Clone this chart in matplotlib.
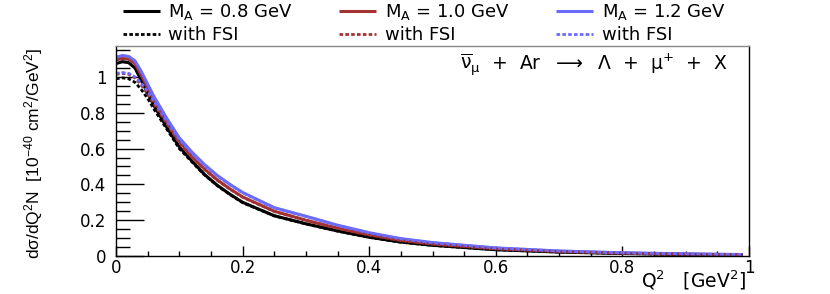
import numpy as np
import matplotlib
matplotlib.use("Agg")
import matplotlib.pyplot as plt
from matplotlib.ticker import MultipleLocator, FuncFormatter

plt.rcParams['font.family'] = ['DejaVu Sans']
plt.rcParams['mathtext.fontset'] = 'dejavusans'
plt.rcParams['mathtext.default'] = 'regular'

# ---------------- data ----------------
q2 = [0.0, 0.01, 0.02, 0.03, 0.04, 0.05, 0.06, 0.08, 0.10, 0.12, 0.14, 0.16, 0.18,
      0.20, 0.25, 0.30, 0.35, 0.40, 0.45, 0.50, 0.60, 0.70, 0.80, 0.90, 0.99]

ma08 = [1.075, 1.085, 1.08, 1.05, 0.98, 0.91, 0.84, 0.72, 0.61, 0.53, 0.455, 0.395, 0.345,
        0.30, 0.225, 0.18, 0.14, 0.105, 0.078, 0.060, 0.035, 0.022, 0.014, 0.009, 0.006]
ma10 = [1.095, 1.105, 1.10, 1.075, 1.01, 0.94, 0.87, 0.75, 0.64, 0.555, 0.485, 0.425, 0.375,
        0.33, 0.25, 0.20, 0.155, 0.118, 0.087, 0.067, 0.040, 0.025, 0.016, 0.010, 0.007]
ma12 = [1.11, 1.12, 1.115, 1.09, 1.03, 0.96, 0.89, 0.77, 0.66, 0.58, 0.51, 0.45, 0.40,
        0.355, 0.27, 0.222, 0.172, 0.13, 0.097, 0.075, 0.045, 0.028, 0.018, 0.012, 0.008]

fsi08 = [0.99, 0.995, 0.99, 0.97, 0.93, 0.88, 0.82, 0.71, 0.60, 0.525, 0.452, 0.393, 0.343,
         0.298, 0.224, 0.179, 0.139, 0.104, 0.077, 0.059, 0.035, 0.022, 0.014, 0.009, 0.006]
fsi10 = [1.015, 1.02, 1.015, 0.995, 0.955, 0.905, 0.85, 0.74, 0.632, 0.55, 0.482, 0.423, 0.373,
         0.328, 0.249, 0.199, 0.154, 0.117, 0.086, 0.066, 0.040, 0.025, 0.016, 0.010, 0.007]
fsi12 = [1.02, 1.025, 1.02, 1.0, 0.965, 0.92, 0.865, 0.755, 0.65, 0.572, 0.505, 0.447, 0.398,
         0.353, 0.269, 0.221, 0.171, 0.129, 0.096, 0.074, 0.045, 0.028, 0.018, 0.012, 0.008]

labels = [r"M$_{A}$ = 0.8 GeV", r"M$_{A}$ = 1.0 GeV", r"M$_{A}$ = 1.2 GeV"]
fsi_label = "with FSI"
colors = ["#000000", "#a33333", "#6b6bff"]

# ---------------- figure ----------------
fig = plt.figure(figsize=(8.3, 2.94), dpi=100)
ax = fig.add_axes([116/830, 38/294, 633/830, 210/294])

solid_h, dash_h = [], []
for ys, c, lab in zip([ma08, ma10, ma12], colors, labels):
    h, = ax.plot(q2, ys, color=c, lw=2.2, solid_capstyle='butt')
    solid_h.append(h)
for fs, c in zip([fsi08, fsi10, fsi12], colors):
    h, = ax.plot(q2, fs, color=c, lw=2.0, linestyle=(0, (1.3, 0.8)))
    dash_h.append(h)

ax.set_xlim(0, 1)
ax.set_ylim(0, 1.173)

ax.xaxis.set_major_locator(MultipleLocator(0.2))
ax.xaxis.set_minor_locator(MultipleLocator(0.05))
ax.yaxis.set_major_locator(MultipleLocator(0.2))
ax.yaxis.set_minor_locator(MultipleLocator(0.05))
fmt = FuncFormatter(lambda v, p: "%g" % round(v, 2))
ax.xaxis.set_major_formatter(fmt)
ax.yaxis.set_major_formatter(fmt)

ax.tick_params(axis='both', which='both', direction='in', top=False, right=False, labelsize=12)
ax.tick_params(axis='y', which='major', length=20, width=1.0, pad=7)
ax.tick_params(axis='y', which='minor', length=10, width=1.0)
ax.tick_params(axis='x', which='major', length=7, width=1.0, pad=2)
ax.tick_params(axis='x', which='minor', length=3.5, width=1.0)

for s in ax.spines.values():
    s.set_linewidth(1.0)
ax.spines['top'].set_color('#888888')

ax.set_ylabel(r"d$\sigma$/dQ$^{2}$N  [10$^{-40}$ cm$^{2}$/GeV$^{2}$]",
              fontsize=12.5, family='Liberation Sans')
ax.yaxis.set_label_coords(-0.112, 0.49)
ax.set_xlabel(r"Q$^{2}$   [GeV$^{2}$]", fontsize=13.5)
ax.xaxis.set_label_coords(0.995, -0.171)
ax.xaxis.label.set_horizontalalignment('right')
ax.xaxis.label.set_verticalalignment('bottom')

ax.text(0.966, 0.91,
        r"$\overline{\nu}_{\mu}$  +  Ar  $\longrightarrow$  $\Lambda$  +  $\mu^{+}$  +  X",
        transform=ax.transAxes, ha='right', va='center', fontsize=13.5)

# legend: order for ncol=3 (column-wise fill)
hs, ls = [], []
for i in range(3):
    hs += [solid_h[i], dash_h[i]]
    ls += [labels[i], fsi_label]
fig.legend(hs, ls, ncol=3, loc='upper left', bbox_to_anchor=(123/830, 0.992), frameon=False,
           fontsize=13, handlelength=2.05, handletextpad=0.45, columnspacing=2.6,
           labelspacing=0.2, borderaxespad=0.0, borderpad=0.0)

fig.savefig("out.png", dpi=100)
